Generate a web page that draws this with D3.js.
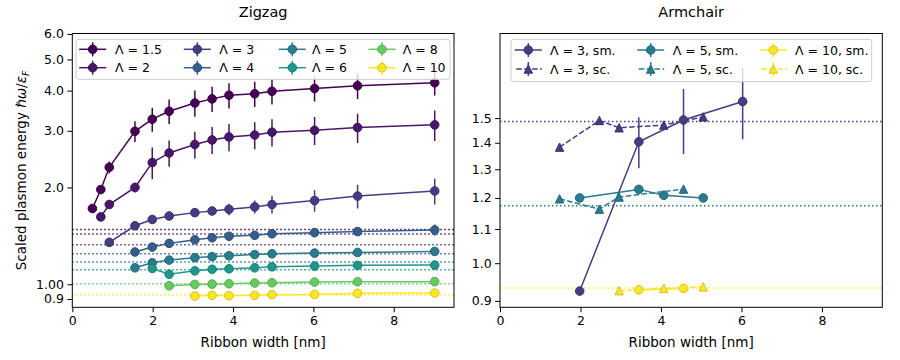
<!DOCTYPE html>
<html>
<head>
<meta charset="utf-8">
<script src="https://cdn.jsdelivr.net/npm/d3@7"></script>
<style>
    body { margin: 0; background: #fff; }
    svg { display: block; }
</style>
</head>
<body>
<div id="chart"></div>
<script>
(function () {

    // ---- zigzag data ----
    const zzWidths = [0.50, 0.71, 0.92, 1.56, 1.99, 2.41, 3.05, 3.48, 3.90, 4.54, 4.97, 6.03, 7.10, 9.02];
    const zzLambdas = [1.5, 2, 3, 4, 5, 6, 8, 10];
    const zzFirst = [0, 1, 2, 3, 3, 4, 5, 6]; // first width index of each series

    const zzL15 = [1.72, 1.97, 2.31, 2.99, 3.26, 3.45, 3.66, 3.77, 3.87, 3.91, 3.98, 4.06, 4.14, 4.23];
    const zzL2 = [1.62, 1.77, 2.00, 2.39, 2.56, 2.72, 2.81, 2.87, 2.91, 2.97, 3.01, 3.07, 3.13];
    const zzL3 = [1.35, 1.52, 1.59, 1.63, 1.67, 1.69, 1.71, 1.74, 1.77, 1.82, 1.88, 1.95];
    const zzL4 = [1.26, 1.305, 1.34, 1.375, 1.395, 1.41, 1.42, 1.435, 1.447, 1.458, 1.475];
    const zzL5 = [1.125, 1.166, 1.189, 1.21, 1.219, 1.226, 1.237, 1.244, 1.25, 1.256, 1.265];
    const zzL6 = [1.12, 1.074, 1.101, 1.113, 1.117, 1.125, 1.133, 1.139, 1.145, 1.147];
    const zzL8 = [0.989, 0.999, 1.001, 1.004, 1.009, 1.011, 1.016, 1.018, 1.019];
    const zzL10 = [0.919, 0.924, 0.921, 0.924, 0.928, 0.930, 0.937, 0.939];

    const zzE15 = [0, 0.05, 0.1, 0.22, 0.28, 0.3, 0.34, 0.34, 0.35, 0.35, 0.36, 0.36, 0.37, 0.37];
    const zzE2 = [0, 0, 0.07, 0.27, 0.24, 0.26, 0.27, 0.28, 0.28, 0.29, 0.3, 0.32, 0.34];
    const zzE3 = [0, 0, 0.01, 0.02, 0.04, 0.05, 0.07, 0.08, 0.11, 0.14, 0.16, 0.18];
    const zzE4 = [0.01, 0.01, 0.01, 0.02, 0.02, 0.02, 0.02, 0.02, 0.02, 0.03, 0.06];
    const zzE5 = [0.01, 0.01, 0.01, 0.01, 0.01, 0.01, 0.01, 0.01, 0.01, 0.01, 0.01];
    const zzE6 = [0.01, 0.01, 0.01, 0.01, 0.01, 0.01, 0.01, 0.01, 0.01, 0.01];
    const zzE8 = [0.005, 0.005, 0.005, 0.005, 0.005, 0.005, 0.005, 0.005, 0.005];
    const zzE10 = [0.005, 0.005, 0.005, 0.005, 0.005, 0.005, 0.005, 0.005];

    const zzLimits = [1.481, 1.432, 1.326, 1.244, 1.172, 1.109, 1.004, 0.926];

    const zzTicks = [0.9, 1.0, 2.0, 3.0, 4.0, 5.0, 6.0];
    const zzTickLabels = ["0.9", "1.00", "2.0", "3.0", "4.0", "5.0", "6.0"];

    // ---- armchair data ----
    const acLambdas = [3, 5, 10];
    const acW3sm = [1.98, 3.45, 4.56, 6.03], acE3sm = [0.925, 1.404, 1.492, 1.571], acErr3sm = [0, 0.1, 0.135, 0.157];
    const acW3sc = [1.48, 2.47, 2.96, 4.07, 5.05], acE3sc = [1.383, 1.490, 1.460, 1.471, 1.505];
    const acW5sm = [1.98, 3.45, 4.07, 5.05], acE5sm = [1.200, 1.229, 1.209, 1.200];
    const acW5sc = [1.48, 2.47, 2.96, 4.56], acE5sc = [1.197, 1.163, 1.203, 1.230];
    const acW10sm = [3.45, 4.56], acE10sm = [0.928, 0.932];
    const acW10sc = [2.96, 4.07, 5.05], acE10sc = [0.926, 0.932, 0.936];
    const acLimits = [1.486, 1.174, 0.933];

    const acTicks = [0.9, 1.0, 1.1, 1.2, 1.3, 1.4, 1.5];
    const acTickLabels = ["0.9", "1.0", "1.1", "1.2", "1.3", "1.4", "1.5"];

    const xTicks = [0, 2, 4, 6, 8];

    const color = lam => d3.interpolateViridis((lam - 1.5) / 8.5);
    const FONT = '"DejaVu Sans", sans-serif';

    const svg = d3.select("#chart").append("svg")
        .attr("width", 900).attr("height", 360)
        .style("font-family", FONT);

    const top = 33.5, bottom = 307.3;

    function makePanel(id, left, right, yDomain, ticks, labels, title) {
        const x = d3.scaleLinear().domain([0, 9.5]).range([left, right]);
        const y = d3.scaleLog().domain(yDomain).range([bottom, top]);
        const g = svg.append("g");

        g.append("clipPath").attr("id", id)
            .append("rect").attr("x", left).attr("y", top)
            .attr("width", right - left).attr("height", bottom - top);

        const xAxis = g.append("g").attr("transform", `translate(0,${bottom})`)
            .call(d3.axisBottom(x).tickValues(xTicks).tickSize(4.9).tickPadding(3.5));
        const yAxis = g.append("g").attr("transform", `translate(${left},0)`)
            .call(d3.axisLeft(y).tickValues(ticks).tickFormat((d, i) => labels[i]).tickSize(4.9).tickPadding(3.5));
        [xAxis, yAxis].forEach(a => {
            a.select(".domain").remove();
            a.selectAll("text").style("font-family", FONT).style("font-size", "12.5px").attr("fill", "#000");
            a.selectAll("line").attr("stroke", "#000").attr("stroke-width", 1);
        });

        g.append("text").attr("x", (left + right) / 2).attr("y", 17)
            .attr("text-anchor", "middle").style("font-size", "14.5px").text(title);
        g.append("text").attr("x", (left + right) / 2).attr("y", 347)
            .attr("text-anchor", "middle").style("font-size", "13.5px").text("Ribbon width [nm]");

        const data = g.append("g").attr("clip-path", `url(#${id})`);
        return { x, y, g, data, left, right };
    }

    const trianglePath = s => `M0,${-s}L${s},${s}L${-s},${s}Z`;

    function drawSeries(p, xs, ys, errs, c, opts) {
        const line = d3.line().x(d => p.x(d[0])).y(d => p.y(d[1]));
        const pts = xs.map((w, i) => [w, ys[i], errs ? errs[i] : 0]);
        p.data.append("path").datum(pts)
            .attr("d", line).attr("fill", "none")
            .attr("stroke", c).attr("stroke-width", 1.5)
            .attr("stroke-dasharray", opts.dashed ? "5.5,2.4" : null);
        p.data.append("g").selectAll("line")
            .data(pts.filter(d => d[2] > 0))
            .enter().append("line")
            .attr("x1", d => p.x(d[0])).attr("x2", d => p.x(d[0]))
            .attr("y1", d => p.y(d[1] - d[2])).attr("y2", d => p.y(d[1] + d[2]))
            .attr("stroke", c).attr("stroke-width", 1.5);
        drawMarkers(p.data, pts.map(d => [p.x(d[0]), p.y(d[1])]), c, opts.triangle);
    }

    function drawMarkers(g, pos, c, tri) {
        const edge = d3.color(c).darker(0.5);
        if (tri) {
            g.append("g").selectAll("path").data(pos).enter().append("path")
                .attr("transform", d => `translate(${d[0]},${d[1]})`)
                .attr("d", trianglePath(4.2))
                .attr("fill", c).attr("stroke", edge).attr("stroke-width", 1);
        } else {
            g.append("g").selectAll("circle").data(pos).enter().append("circle")
                .attr("cx", d => d[0]).attr("cy", d => d[1]).attr("r", 4.3)
                .attr("fill", c).attr("stroke", edge).attr("stroke-width", 1);
        }
    }

    function drawLimit(p, v, c) {
        p.data.append("line")
            .attr("x1", p.left).attr("x2", p.right)
            .attr("y1", p.y(v)).attr("y2", p.y(v))
            .attr("stroke", c).attr("stroke-width", 1.5)
            .attr("stroke-dasharray", "1.5,2.5");
    }

    function drawLegend(g, box, items) {
        g.append("rect").attr("x", box[0]).attr("y", box[1])
            .attr("width", box[2] - box[0]).attr("height", box[3] - box[1])
            .attr("rx", 3).attr("fill", "#fff").attr("fill-opacity", 0.8)
            .attr("stroke", "#ccc").attr("stroke-width", 1);
        items.forEach(it => {
            g.append("line").attr("x1", it.mx - 13.5).attr("x2", it.mx + 13.5)
                .attr("y1", it.my).attr("y2", it.my)
                .attr("stroke", it.c).attr("stroke-width", 1.5)
                .attr("stroke-dasharray", it.dashed ? "5.5,2.4" : null)
                .attr("stroke-dashoffset", it.dashed ? -1.5 : null);
            g.append("line").attr("x1", it.mx).attr("x2", it.mx)
                .attr("y1", it.my - 7).attr("y2", it.my + 7)
                .attr("stroke", it.c).attr("stroke-width", 1.5);
            drawMarkers(g, [[it.mx, it.my]], it.c, it.triangle);
            g.append("text").attr("x", it.tx).attr("y", it.my).attr("dy", "0.36em")
                .style("font-size", "12.5px").text(it.label);
        });
    }

    function drawFrame(p) {
        p.g.append("rect").attr("x", p.left).attr("y", top)
            .attr("width", p.right - p.left).attr("height", bottom - top)
            .attr("fill", "none").attr("stroke", "#000").attr("stroke-width", 1);
    }

    // ---- zigzag panel ----
    const zz = makePanel("clipZ", 72.3, 454, [0.848, 6.02], zzTicks, zzTickLabels, "Zigzag");
    const zzValues = [zzL15, zzL2, zzL3, zzL4, zzL5, zzL6, zzL8, zzL10];
    const zzErrors = [zzE15, zzE2, zzE3, zzE4, zzE5, zzE6, zzE8, zzE10];

    zzLambdas.forEach((lam, k) => drawLimit(zz, zzLimits[k], color(lam)));
    zzLambdas.forEach((lam, k) => {
        drawSeries(zz, zzWidths.slice(zzFirst[k]), zzValues[k], zzErrors[k], color(lam), {});
    });
    drawFrame(zz);

    const zzLegX = [[92.7, 115], [197.3, 219.3], [292.3, 312], [382, 402.7]];
    const zzLegY = [49.3, 67.7];
    drawLegend(zz.g, [76, 39.3, 450, 79.3], zzLambdas.map((lam, k) => ({
        mx: zzLegX[Math.floor(k / 2)][0], tx: zzLegX[Math.floor(k / 2)][1],
        my: zzLegY[k % 2], c: color(lam), label: `Λ = ${lam}`
    })));

    // y label
    const yl = svg.append("text")
        .attr("transform", "translate(26,170.4) rotate(-90)")
        .attr("text-anchor", "middle").style("font-size", "13.5px");
    yl.append("tspan").text("Scaled plasmon energy ");
    yl.append("tspan").style("font-style", "italic").text("ℏω");
    yl.append("tspan").text("/");
    yl.append("tspan").style("font-style", "italic").text("ε");
    yl.append("tspan").style("font-style", "italic").style("font-size", "9.5px").attr("dy", "3").text("F");

    // ---- armchair panel ----
    const ac = makePanel("clipA", 500, 882.3, [0.884, 1.90], acTicks, acTickLabels, "Armchair");
    acLambdas.forEach((lam, k) => drawLimit(ac, acLimits[k], color(lam)));

    const acSeries = [
        { lam: 3, xs: acW3sm, ys: acE3sm, err: acErr3sm, sc: false },
        { lam: 3, xs: acW3sc, ys: acE3sc, err: null, sc: true },
        { lam: 5, xs: acW5sm, ys: acE5sm, err: null, sc: false },
        { lam: 5, xs: acW5sc, ys: acE5sc, err: null, sc: true },
        { lam: 10, xs: acW10sm, ys: acE10sm, err: null, sc: false },
        { lam: 10, xs: acW10sc, ys: acE10sc, err: null, sc: true }
    ];
    acSeries.forEach(s => drawSeries(ac, s.xs, s.ys, s.err, color(s.lam), { dashed: s.sc, triangle: s.sc }));
    drawFrame(ac);

    const acLegX = [[528.3, 550], [650.7, 672.7], [773.3, 795]];
    const acLegY = [50, 69];
    drawLegend(ac.g, [511, 39.3, 871.7, 81.7], acSeries.map((s, k) => ({
        mx: acLegX[Math.floor(k / 2)][0], tx: acLegX[Math.floor(k / 2)][1],
        my: acLegY[k % 2], c: color(s.lam), dashed: s.sc, triangle: s.sc,
        label: `Λ = ${s.lam}, ${s.sc ? "sc." : "sm."}`
    })));

})();
</script>
</body>
</html>
